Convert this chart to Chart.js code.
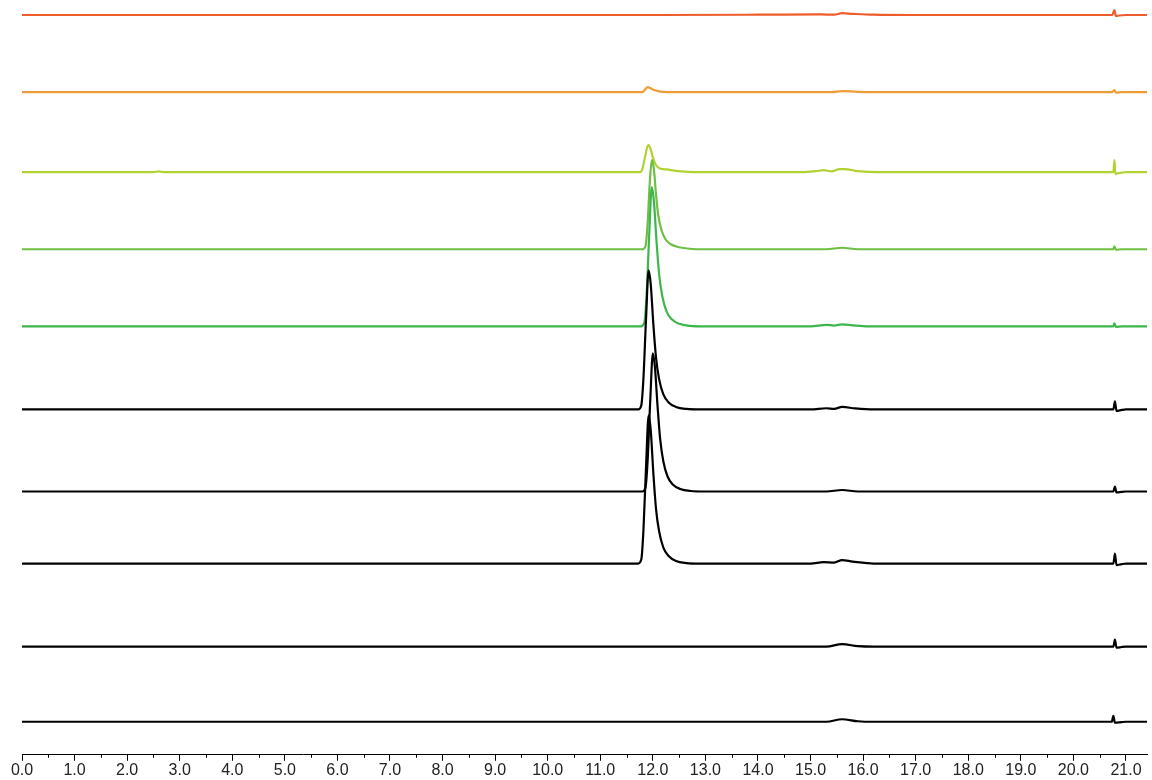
<!DOCTYPE html>
<html>
<head>
<meta charset="utf-8">
<title>Chromatogram overlay</title>
<script src="https://cdn.jsdelivr.net/npm/chart.js@4.4.1/dist/chart.umd.min.js"></script>
<style>
  html, body { margin: 0; padding: 0; background: #fff; }
  #wrap { width: 1152px; height: 780px; }
</style>
</head>
<body>
<div id="wrap"><canvas id="chroma" width="1152" height="780"></canvas></div>
<script>
// ---------- data: retention time (min) / response, one array per run ----------
const run1 = [[0,0],[6.0,0],[12.0,0],[14.0,0.3],[15.2,0.6],[15.45,0.3],[15.6,1.8],[15.8,1.2],[16.2,0.3],[17,0],
  [20.74,0],[20.78,5],[20.81,-1],[20.87,-0.5],[21.0,0],[21.4,0]];
const run2 = [[0,0],[6.0,0],[11.8,0],[11.86,3],[11.9,5],[11.95,4],[12.0,2.5],[12.1,1],[12.2,0.3],[12.4,0],
  [15.4,0],[15.6,1],[15.9,0.3],[16.2,0],[20.74,0],[20.78,2],[20.81,-0.5],[20.92,0],[21.4,0]];
const run3 = [[0,0],[2.5,0],[2.6,0.8],[2.7,0],[11.76,0],[11.8,3],[11.85,15],[11.9,26],[11.92,27],[11.96,23],
  [12.0,15],[12.05,8],[12.12,4],[12.2,3],[12.3,2.5],[12.4,1.5],[12.6,0.5],[13.0,0],
  [14.8,0],[15.1,1],[15.25,2],[15.4,0.8],[15.55,3],[15.65,3],[15.9,1],[16.3,0],
  [20.76,0],[20.78,12],[20.8,-2],[20.84,-1],[20.92,-0.5],[21.0,0],[21.4,0]];
const run4 = [[0,0],[11.8,0],[11.86,3],[11.9,25],[11.94,65],[11.98,89],[12.02,80],[12.06,55],[12.1,35],
  [12.16,20],[12.24,10],[12.34,5],[12.5,2],[12.7,0.5],[13.0,0],[15.3,0],[15.6,1.5],[15.9,0],
  [20.76,0],[20.78,3],[20.81,-0.5],[20.92,0],[21.4,0]];
const run5 = [[0,0],[11.78,0],[11.84,4],[11.88,30],[11.93,90],[11.98,139],[12.02,125],[12.07,85],[12.12,52],
  [12.18,30],[12.26,15],[12.36,7],[12.5,2.5],[12.7,0.5],[13.0,0],[15.0,0],[15.3,1.5],[15.45,0.8],[15.6,2],[15.8,1],[16.1,0],
  [20.76,0],[20.78,3],[20.81,-0.5],[20.92,0],[21.4,0]];
const run6 = [[0,0],[11.72,0],[11.78,4],[11.82,30],[11.87,90],[11.92,139],[11.96,125],
  [12.01,85],[12.06,52],[12.12,30],[12.2,15],[12.3,7],[12.44,2.5],[12.64,0.5],[12.9,0],
  [15.0,0],[15.3,1.2],[15.45,0.6],[15.6,2.5],[15.85,1],[16.2,0],
  [20.76,0],[20.79,8],[20.82,-1.5],[20.92,-0.5],[21.0,0],[21.4,0]];
const run7 = [[0,0],[11.8,0],[11.86,4],[11.9,30],[11.95,90],[12.0,138],[12.04,124],[12.09,85],[12.14,52],
  [12.2,30],[12.28,15],[12.38,7],[12.52,2.5],[12.72,0.5],[13.0,0],[15.3,0],[15.6,1.5],[15.9,0],
  [20.76,0],[20.79,5],[20.82,-1],[20.92,-0.3],[21.0,0],[21.4,0]];
const run8 = [[0,0],[11.72,0],[11.78,4],[11.82,32],[11.87,96],[11.92,148],[11.96,133],[12.01,90],[12.06,55],
  [12.12,32],[12.2,16],[12.3,7.5],[12.44,2.5],[12.64,0.5],[12.9,0],
  [15.0,0],[15.25,1.5],[15.45,1],[15.6,3.5],[15.8,2],[16.2,0],
  [20.76,0],[20.79,10],[20.82,-1.5],[20.92,-0.5],[21.0,0],[21.4,0]];
const run9 = [[0,0],[15.3,0],[15.6,2.5],[15.9,0.5],[16.2,0],[20.76,0],[20.79,7],[20.82,-1],[20.92,-0.3],[21.0,0],[21.4,0]];
const run10 = [[0,0],[15.3,0],[15.6,2.5],[15.9,0.5],[16.2,0],[20.73,0],[20.76,6],[20.79,-1],[20.92,-0.3],[21.0,0],[21.4,0]];

// stacking offsets for each run (response units), top run first
const traceOffsets = [739, 662, 582, 505, 428, 345, 263, 191, 108, 33];
const runs = [run1, run2, run3, run4, run5, run6, run7, run8, run9, run10];
const traceColors = ['#EE5C2B', '#EE9C35', '#B2D233', '#6EC043', '#3DB64B',
  '#000000', '#000000', '#000000', '#000000', '#000000'];

// x axis ticks
const xMin = 0, xMax = 21.4, xStep = 1, xMinorStep = 0.5;

// build datasets, bottom run first so lower traces paint over upper ones
const datasets = runs.map((run, i) => ({
  label: 'run' + (i + 1),
  data: run.map(p => ({ x: p[0], y: p[1] + traceOffsets[i] })),
  borderColor: traceColors[i],
  borderWidth: 2.2,
  pointRadius: 0,
  fill: false,
  cubicInterpolationMode: 'monotone',
})).reverse();

// minor ticks between the labelled ones
const minorTicks = {
  id: 'minorTicks',
  afterDraw(chart) {
    const sx = chart.scales.x;
    const c = chart.ctx;
    const y0 = chart.chartArea.bottom;
    c.save();
    c.strokeStyle = '#000';
    c.lineWidth = 1;
    c.beginPath();
    for (let v = xMinorStep; v < xMax; v += xStep) {
      const px = Math.round(sx.getPixelForValue(v)) + 0.5;
      c.moveTo(px, y0);
      c.lineTo(px, y0 + 3);
    }
    c.stroke();
    c.restore();
  }
};

new Chart(document.getElementById('chroma').getContext('2d'), {
  type: 'line',
  data: { datasets },
  options: {
    responsive: false,
    animation: false,
    layout: { padding: { left: 22, right: 5, top: 0, bottom: 0 } },
    plugins: { legend: { display: false }, tooltip: { enabled: false } },
    scales: {
      x: {
        type: 'linear',
        min: xMin,
        max: xMax,
        border: { display: true, color: '#000', width: 1 },
        grid: { drawOnChartArea: false, drawTicks: true, tickLength: 6, tickColor: '#000' },
        ticks: {
          stepSize: xStep,
          includeBounds: false,
          autoSkip: false,
          maxRotation: 0,
          padding: 0,
          color: '#222',
          font: { family: '"Liberation Sans", Arial, sans-serif', size: 16 },
          callback: v => v.toFixed(1)
        }
      },
      y: { display: false, min: 0, max: 754 }
    }
  },
  plugins: [minorTicks]
});
</script>
</body>
</html>
